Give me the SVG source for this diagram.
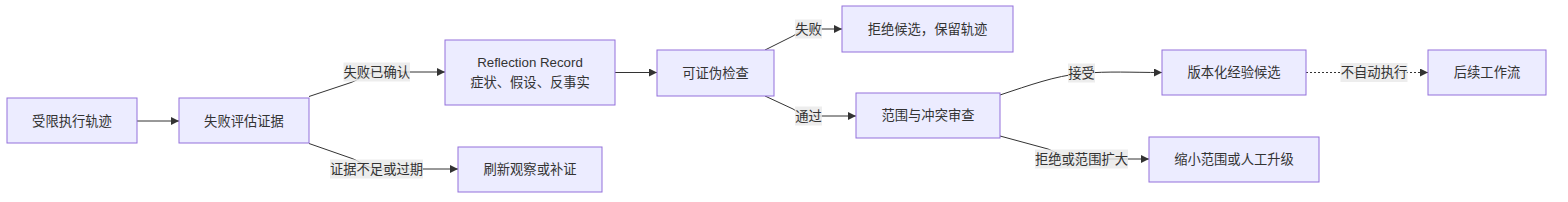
<svg xmlns="http://www.w3.org/2000/svg" width="1568" height="202" viewBox="0 0 1568 202">
<defs>
<style>
.node rect{fill:#ECECFF;stroke:#9370DB;stroke-width:1px;}
.node text{fill:#333333;font-family:"Liberation Sans","Noto Sans CJK SC",sans-serif;font-size:13.3px;text-anchor:middle;dominant-baseline:central;}
.edge{fill:none;stroke:#333333;stroke-width:1px;}
.dotted{stroke-dasharray:2,2;}
.lbl rect{fill:#e8e8e8;fill-opacity:0.8;}
.lbl text{fill:#333333;font-family:"Liberation Sans","Noto Sans CJK SC",sans-serif;font-size:13.3px;text-anchor:middle;dominant-baseline:central;}
</style>
<marker id="arrow" viewBox="0 0 10 10" refX="10" refY="5" markerUnits="userSpaceOnUse" markerWidth="8" markerHeight="8" orient="auto">
<path d="M0,0 L10,5 L0,10 z" fill="#333333"/>
</marker>
</defs>
<rect width="1568" height="202" fill="#ffffff"/>
<g id="connectors">
<path class="edge" d="M137,121 L179,121" marker-end="url(#arrow)"/>
<path class="edge" d="M309,96.5 L351,82.5 C360,79.5 366,72 380,72 L445,72" marker-end="url(#arrow)"/>
<path class="edge" d="M309,143.5 L352,158.5 C360,161 366,169 380,169 L458,169" marker-end="url(#arrow)"/>
<path class="edge" d="M615,72.5 L657,72.5" marker-end="url(#arrow)"/>
<path class="edge" d="M765,50 L793,36 C798,33 802,29 810,29 L842,29" marker-end="url(#arrow)"/>
<path class="edge" d="M765,96 L793,109 C798,112 802,116 810,116 L856,116" marker-end="url(#arrow)"/>
<path class="edge" d="M1000,95 C1030,85 1055,76 1081,73.5 C1110,71 1130,72.5 1162,72.5" marker-end="url(#arrow)"/>
<path class="edge" d="M1000,136 L1048,149 C1058,153 1064,159 1080,159 L1149,159" marker-end="url(#arrow)"/>
<path class="edge dotted" d="M1306,72.5 L1428,72.5" marker-end="url(#arrow)"/>
<g class="lbl"><rect x="343.5" y="62.5" width="66.5" height="19"/><text x="376.75" y="72">失败已确认</text></g>
<g class="lbl"><rect x="330" y="159.5" width="93" height="19"/><text x="376.5" y="169">证据不足或过期</text></g>
<g class="lbl"><rect x="795" y="19.5" width="27" height="19"/><text x="808.5" y="29">失败</text></g>
<g class="lbl"><rect x="795" y="106.5" width="27" height="19"/><text x="808.5" y="116">通过</text></g>
<g class="lbl"><rect x="1068" y="63.5" width="27" height="19"/><text x="1081.5" y="73">接受</text></g>
<g class="lbl"><rect x="1035" y="149.5" width="93" height="19"/><text x="1081.5" y="159">拒绝或范围扩大</text></g>
<g class="lbl"><rect x="1340.5" y="63" width="67" height="19"/><text x="1374" y="72.5">不自动执行</text></g>
</g>
<g id="n_trace" class="node"><rect x="7" y="98" width="130" height="45"/><text x="72" y="121">受限执行轨迹</text></g>
<g id="n_eval" class="node"><rect x="179" y="98" width="130" height="45"/><text x="244" y="121">失败评估证据</text></g>
<g id="n_reflect" class="node"><rect x="445" y="40" width="170" height="65"/><text x="530" y="62.5">Reflection Record</text><text x="530" y="82.5">症状、假设、反事实</text></g>
<g id="n_refresh" class="node"><rect x="458" y="147" width="144" height="45"/><text x="530" y="169.5">刷新观察或补证</text></g>
<g id="n_falsify" class="node"><rect x="657" y="50" width="117" height="46"/><text x="715.5" y="73">可证伪检查</text></g>
<g id="n_reject" class="node"><rect x="842" y="6" width="171" height="46"/><text x="927.5" y="29">拒绝候选，保留轨迹</text></g>
<g id="n_scope" class="node"><rect x="856" y="93" width="144" height="45"/><text x="928" y="115.5">范围与冲突审查</text></g>
<g id="n_versioned" class="node"><rect x="1162" y="50" width="144" height="45"/><text x="1234" y="72.5">版本化经验候选</text></g>
<g id="n_narrow" class="node"><rect x="1149" y="137" width="170" height="45"/><text x="1234" y="159.5">缩小范围或人工升级</text></g>
<g id="n_follow" class="node"><rect x="1428" y="50" width="118" height="45"/><text x="1487" y="72.5">后续工作流</text></g>
</svg>
